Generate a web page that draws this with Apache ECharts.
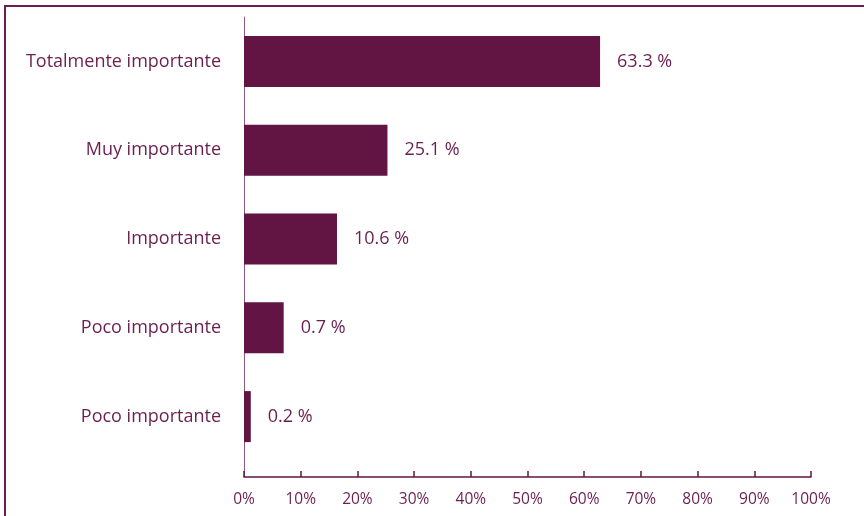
<!DOCTYPE html>
<html>
<head>
<meta charset="utf-8">
<script src="https://cdn.jsdelivr.net/npm/echarts@6/dist/echarts.min.js"></script>
<style>html,body{margin:0;padding:0;background:#fff;}#c{width:864px;height:516px;}</style>
</head>
<body>
<div id="c"></div>
<script>
const categories = ['Totalmente importante', 'Muy importante', 'Importante', 'Poco importante', 'Poco importante'];
const barValues = [62.8, 25.3, 16.4, 7.0, 1.2];
const valueLabels = ['63.3 %', '25.1 %', '10.6 %', '0.7 %', '0.2 %'];
const tickLabels = ['0%', '10%', '20%', '30%', '40%', '50%', '60%', '70%', '80%', '90%', '100%'];

const TEXT = '#6b1f50';
const BAR = '#621542';
const FONT = '"Open Sans", sans-serif';

const chart = echarts.init(document.getElementById('c'), null, {renderer: 'canvas'});
chart.setOption({
  animation: false,
  grid: {left: 244, right: 53, top: 17, bottom: 55, containLabel: false},
  xAxis: {
    type: 'value', min: 0, max: 100, interval: 10, offset: 16,
    axisLine: {show: true, lineStyle: {color: BAR, width: 1.5}},
    axisTick: {show: true, inside: true, length: 6, lineStyle: {color: BAR, width: 1.5}},
    splitLine: {show: false},
    axisLabel: {color: TEXT, fontFamily: FONT, fontSize: 15.5, margin: 15,
      formatter: (v) => tickLabels[Math.round(v / 10)]}
  },
  yAxis: {
    type: 'category', data: categories, inverse: true,
    axisLine: {show: true, lineStyle: {color: '#8e5a7c', width: 1}},
    axisTick: {show: false},
    axisLabel: {color: TEXT, fontFamily: FONT, fontSize: 18, margin: 23}
  },
  series: [{
    type: 'bar', data: barValues, barWidth: 51,
    itemStyle: {color: BAR},
    label: {show: true, position: 'right', distance: 17, color: TEXT, fontFamily: FONT, fontSize: 18,
      formatter: (p) => valueLabels[p.dataIndex]}
  }],
  graphic: [
    {type: 'rect', shape: {x: 5, y: 6, width: 900, height: 600}, style: {fill: 'none', stroke: '#6b1f50', lineWidth: 2}, silent: true},
    {type: 'line', shape: {x1: 244.5, y1: 461, x2: 244.5, y2: 477}, style: {stroke: '#8e5a7c', lineWidth: 1}, silent: true}
  ]
});
</script>
</body>
</html>
